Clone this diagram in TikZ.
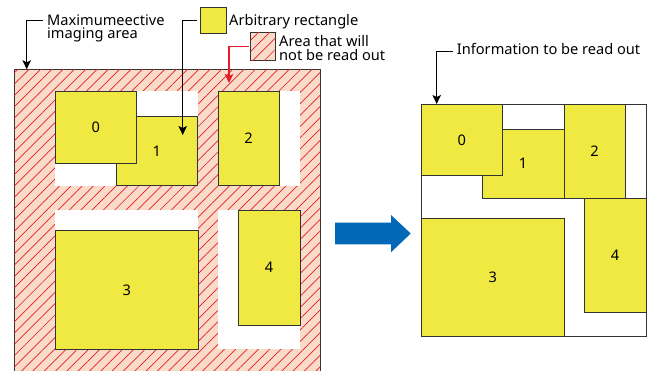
\documentclass[tikz,border=0pt]{standalone}
\usepackage{fontspec}
\setmainfont{Noto Sans}
\usetikzlibrary{positioning}
\usetikzlibrary{arrows.meta}
\usetikzlibrary{patterns.meta}
\definecolor{rectyellow}{RGB}{240,233,66}
\definecolor{hatchfill}{RGB}{250,218,200}
\definecolor{hatchred}{RGB}{228,30,40}
\definecolor{arrowblue}{RGB}{0,104,183}
\tikzset{
  blk/.style={draw=black!80, fill=rectyellow, line width=0.8pt, inner sep=0pt, outer sep=0pt, anchor=north west, font=\fontsize{14.6}{16}\selectfont},
  hatched/.style={draw=black!80, line width=0.8pt, inner sep=0pt, outer sep=0pt, anchor=north west, fill=hatchfill,
    postaction={pattern={Lines[angle=45,distance=8pt,line width=0.7pt]}, pattern color=hatchred}},
  hole/.style={fill=white},
  lbl/.style={font=\fontsize{14.6}{13.3}\selectfont, inner sep=0pt, align=left, anchor=base west},
  arrow/.style={line width=1.4pt, -{Stealth[length=9pt,width=8.5pt,inset=2pt]}},
}

\begin{document}
\begin{tikzpicture}[x=1pt, y=-1pt]

    \useasboundingbox (0,0) rectangle (654,370);
    \clip (0,0) rectangle (654,370);

    % left: full imaging area
    \node (area) [hatched, minimum width=306pt, minimum height=310pt] at (14,69.3) {};

    \fill [hole] (55,91) rectangle (197.7,185.7);
    \fill [hole] (218,91) rectangle (300,185.7);
    \fill [hole] (55,210) rectangle (197.7,349);
    \fill [hole] (218,210) rectangle (300,349);

    \node (r1) [blk, minimum width=81.7pt, minimum height=69pt] at (116,116.7) {1};
    \node (r0) [blk, minimum width=81.7pt, minimum height=72.3pt] at (55,91) {0};
    \node (r2) [blk, minimum width=61.3pt, minimum height=94.7pt] at (218,91) {2};
    \node (r3) [blk, minimum width=143.7pt, minimum height=118.3pt] at (55,230.7) {3};
    \node (r4) [blk, minimum width=61.7pt, minimum height=115pt] at (238.3,210) {4};

    % legend
    \node (legY) [blk, minimum width=25.3pt, minimum height=26pt] at (200.7,7.3) {};
    \node (legH) [hatched, minimum width=24.3pt, minimum height=27.3pt] at (250.7,32.7) {};

    \node (lblMax) [lbl] at (47,38.5) {Maximumeective\\imaging area};
    \node (lblRect) [lbl] at (229,25.7) {Arbitrary rectangle};
    \node (lblArea) [lbl] at (279,60) {Area that will\\not be read out};

    % blue arrow
    \fill [arrowblue] (335,222.7) -- (391,222.7) -- (391,215) -- (410.7,233.5) -- (391,252.3) -- (391,244.3) -- (335,244.3) -- cycle;

    % right: read out result
    \node (outR) [draw=black!80, line width=0.8pt, inner sep=0pt, outer sep=0pt, anchor=north west, minimum width=225pt, minimum height=232pt] at (421,104) {};

    \node (q1) [blk, minimum width=81.7pt, minimum height=69.3pt] at (482.3,129) {1};
    \node (q0) [blk, minimum width=81.7pt, minimum height=71.7pt] at (421,104) {0};
    \node (q2) [blk, minimum width=61.3pt, minimum height=94.3pt] at (564,104) {2};
    \node (q3) [blk, minimum width=143.7pt, minimum height=117.7pt] at (421,218.3) {3};
    \node (q4) [blk, minimum width=61.7pt, minimum height=114.4pt] at (584.3,198.3) {4};

    \node (lblInfo) [lbl] at (456.7,54.3) {Information to be read out};

    % pointers
    \coordinate (tipRect) at (182.7,135);
    \coordinate (tipArea) at (229,83);

    \draw [arrow] ([xshift=-4pt,yshift=17.8pt]lblMax.base west) -| ([xshift=12.7pt]area.north west);
    \draw [arrow] ([xshift=-4pt]legY.west) -| (tipRect);
    \draw [arrow, color=hatchred] ([xshift=-2pt]legH.west) -| (tipArea);
    \draw [arrow] ([xshift=-4pt]lblInfo.mid west) -| ([xshift=15.7pt]outR.north west);

\end{tikzpicture}
\end{document}
